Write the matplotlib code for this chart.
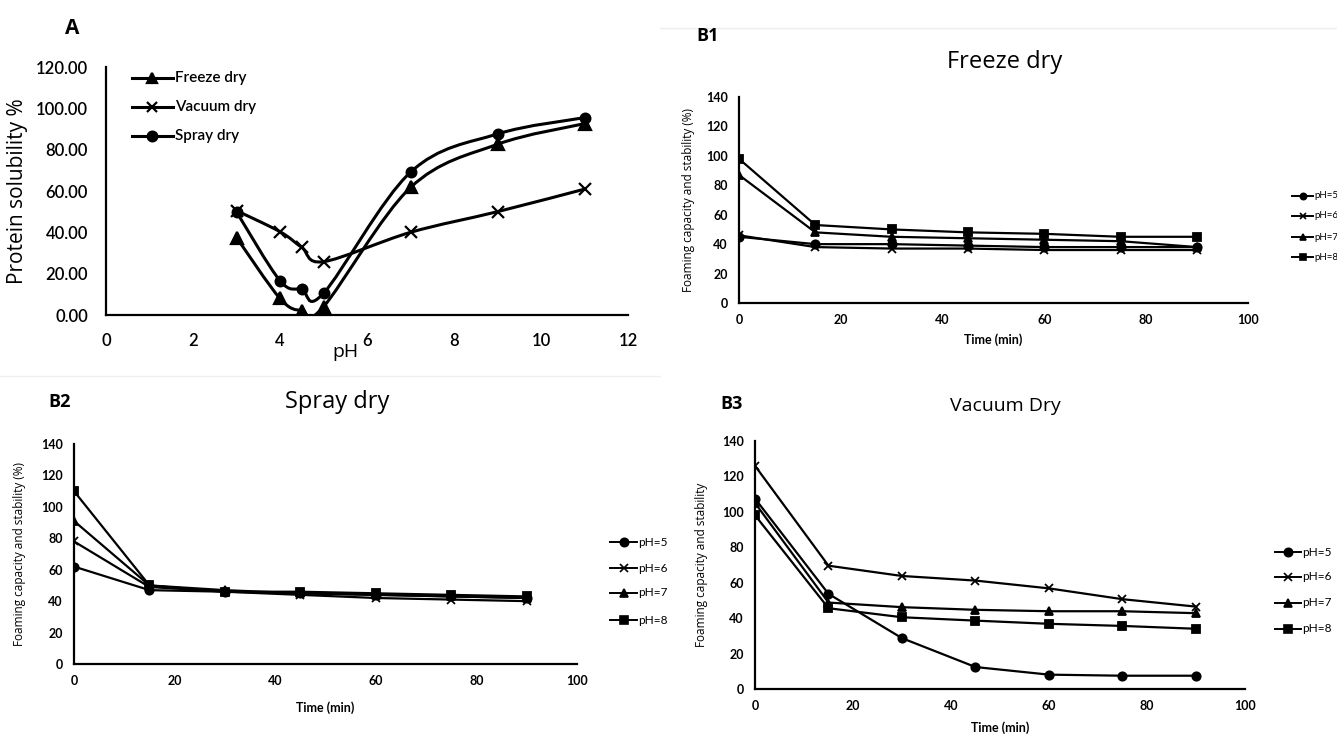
import numpy as np
import matplotlib
matplotlib.use("Agg")
import matplotlib.pyplot as plt
from matplotlib.path import Path
from matplotlib.patches import PathPatch

W, H = 1337, 735

# ---- panel A data (protein solubility vs pH)
ph = [3, 4, 4.5, 5, 7, 9, 11]
freeze_sol = [37.5, 8.0, 2.1, 4.0, 61.7, 82.6, 92.6]
vacuum_sol = [50.5, 40.3, 32.7, 25.8, 40.0, 50.0, 60.9]
spray_sol = [49.9, 16.6, 12.4, 10.5, 69.1, 87.6, 95.5]

# ---- panel B data (foaming capacity / stability vs time)
time_min = [0, 15, 30, 45, 60, 75, 90]
ph_labels = ["pH=5", "pH=6", "pH=7", "pH=8"]

b1_freeze = {
    "pH=5": [45, 40, 40, 39, 38, 38, 38],
    "pH=6": [46, 38, 37, 37, 36, 36, 36],
    "pH=7": [87, 48, 45, 44, 43, 42, 38],
    "pH=8": [98, 53, 50, 48, 47, 45, 45],
}
b2_spray = {
    "pH=5": [62, 47, 46, 45, 44, 43, 42],
    "pH=6": [78, 49, 46, 44, 42, 41, 40],
    "pH=7": [91, 50, 47, 45, 44, 43, 42],
    "pH=8": [110, 50, 46, 46, 45, 44, 43],
}
b3_vacuum = {
    "pH=5": [107.5, 53.7, 28.7, 12.4, 8.1, 7.5, 7.5],
    "pH=6": [126, 69.6, 63.8, 61.2, 56.8, 50.7, 46.5],
    "pH=7": [105, 48.8, 46.2, 44.7, 43.9, 43.9, 42.8],
    "pH=8": [98.1, 45.6, 40.5, 38.6, 36.8, 35.6, 34.0],
}
markers = {"pH=5": "o", "pH=6": "x", "pH=7": "^", "pH=8": "s"}

fig = plt.figure(figsize=(W / 100, H / 100), dpi=100)
fig.patch.set_facecolor("white")

FONT = "Lato"
TFONT = "Open Sans"


def ax_px(x0, y_top, x1, y_bot):
    return fig.add_axes([x0 / W, 1 - y_bot / H, (x1 - x0) / W, (y_bot - y_top) / H])


def style(ax, size, weight="bold", pad=6):
    for s in ["top", "right"]:
        ax.spines[s].set_visible(False)
    for s in ["left", "bottom"]:
        ax.spines[s].set_linewidth(1.6)
        ax.spines[s].set_color("black")
    ax.tick_params(length=0, pad=pad)
    for lab in ax.get_xticklabels() + ax.get_yticklabels():
        lab.set_fontfamily(FONT)
        lab.set_fontsize(size)
        lab.set_fontweight(weight)


def smooth_path(xs, ys):
    # Excel style smoothed line: cubic bezier segments through the data points
    pts = np.column_stack([xs, ys]).astype(float)
    verts = [pts[0]]
    codes = [Path.MOVETO]
    n = len(pts)
    for i in range(n - 1):
        p0 = pts[i - 1] if i > 0 else pts[i]
        p1 = pts[i]
        p2 = pts[i + 1]
        p3 = pts[i + 2] if i + 2 < n else pts[i + 1]
        c1 = p1 + (p2 - p0) / 6
        c2 = p2 - (p3 - p1) / 6
        verts += [c1, c2, p2]
        codes += [Path.CURVE4] * 3
    return Path(verts, codes)


# faint panel borders seen in the source figure
fig.add_artist(plt.Line2D([660 / W, 1], [1 - 28 / H] * 2, color="#eeeeee", lw=1))
fig.add_artist(plt.Line2D([0, 660 / W], [1 - 376 / H] * 2, color="#f0f0f0", lw=1))

# ================= panel A
axA = ax_px(106, 67, 628, 315)
for ys, mk, ms in [(freeze_sol, "^", 8), (vacuum_sol, "x", 8), (spray_sol, "o", 7)]:
    axA.add_patch(PathPatch(smooth_path(ph, ys), fill=False, lw=2.2, ec="black"))
    axA.plot(ph, ys, ls="none", marker=mk, ms=ms, color="black", mew=1.6)
axA.set_xlim(0, 12)
axA.set_ylim(0, 120)
axA.set_xticks(range(0, 13, 2))
axA.set_yticks(range(0, 121, 20))
axA.set_yticklabels([f"{v:.2f}" for v in range(0, 121, 20)])
style(axA, 12, weight="semibold", pad=13)

leg_rows = [("Freeze dry", "^", 78), ("Vacuum dry", "x", 107), ("Spray dry", "o", 136)]
for name, mk, yy in leg_rows:
    fy = 1 - yy / H
    fig.add_artist(plt.Line2D([132 / W, 173 / W], [fy, fy], color="black", lw=2.2))
    fig.add_artist(plt.Line2D([152 / W], [fy], marker=mk, ms=7, color="black", mew=1.6))
    fig.text(175 / W, fy, name, fontsize=11, fontfamily=FONT, fontweight="semibold",
             va="center", ha="left")

fig.text(358 / W, 1 - 352 / H, "pH", fontsize=14, fontfamily=TFONT, ha="right", va="center")
fig.text(18 / W, 1 - 191 / H, "Protein solubility %", fontsize=15, fontfamily=TFONT,
         rotation=90, ha="center", va="center")
fig.text(72 / W, 1 - 28 / H, "A", fontsize=15, fontfamily=TFONT, fontweight="bold",
         ha="center", va="center")


# ================= panels B
def b_panel(rect, data, ylabel, ylab_x, time_y, tick_size, lw=1.6, ms=6):
    ax = ax_px(*rect)
    for lab in ph_labels:
        ax.plot(time_min, data[lab], color="black", lw=lw, marker=markers[lab],
                ms=ms, mew=1.3)
    ax.set_xlim(0, 100)
    ax.set_ylim(0, 140)
    ax.set_xticks(range(0, 101, 20))
    ax.set_yticks(range(0, 141, 20))
    style(ax, tick_size, pad=8)
    x0, yt, x1, yb = rect
    fig.text(ylab_x / W, 1 - (yt + yb) / 2 / H, ylabel, fontsize=8.5, fontfamily=TFONT,
             rotation=90, ha="center", va="center")
    fig.text((x0 + x1) / 2 / W, 1 - time_y / H, "Time (min)", fontsize=9, fontfamily=FONT,
             fontweight="bold", ha="center", va="center")
    return ax


def b_legend(x_line, rows_y, size, length=22, ms=5):
    for lab, yy in zip(ph_labels, rows_y):
        fy = 1 - yy / H
        fig.add_artist(plt.Line2D([x_line / W, (x_line + length) / W], [fy, fy],
                                  color="black", lw=1.4))
        fig.add_artist(plt.Line2D([(x_line + length / 2) / W], [fy], marker=markers[lab],
                                  ms=ms, color="black", mew=1.2))
        fig.text((x_line + length + 1) / W, fy, lab, fontsize=size, fontfamily=FONT,
                 va="center", ha="left")


b_panel((739, 97, 1248, 303), b1_freeze, "Foaming capacity and stability (%)", 688, 340, 9)
b_legend(1292, [196, 216, 237, 257], 7, length=21, ms=4.5)
fig.text(1005 / W, 1 - 62 / H, "Freeze dry", fontsize=17, fontfamily=TFONT,
         ha="center", va="center")
fig.text(708 / W, 1 - 36 / H, "B1", fontsize=13, fontfamily=TFONT, fontweight="bold",
         ha="center", va="center")

b_panel((74, 444, 577, 664), b2_spray, "Foaming capacity and stability (%)", 20, 708, 9)
b_legend(610, [542, 568, 593, 620], 8.5, length=27, ms=6)
fig.text(337 / W, 1 - 402 / H, "Spray dry", fontsize=17, fontfamily=TFONT,
         ha="center", va="center")
fig.text(60 / W, 1 - 402 / H, "B2", fontsize=13, fontfamily=TFONT, fontweight="bold",
         ha="center", va="center")

b_panel((755, 441, 1245, 689), b3_vacuum, "Foaming capacity and stability", 702, 728, 9)
b_legend(1275, [552, 577, 603, 629], 8.5, length=26, ms=6)
fig.text(1005 / W, 1 - 406 / H, "Vacuum Dry", fontsize=14, fontfamily=TFONT,
         ha="center", va="center")
fig.text(732 / W, 1 - 404 / H, "B3", fontsize=13, fontfamily=TFONT, fontweight="bold",
         ha="center", va="center")

fig.savefig("out.png", dpi=100)
